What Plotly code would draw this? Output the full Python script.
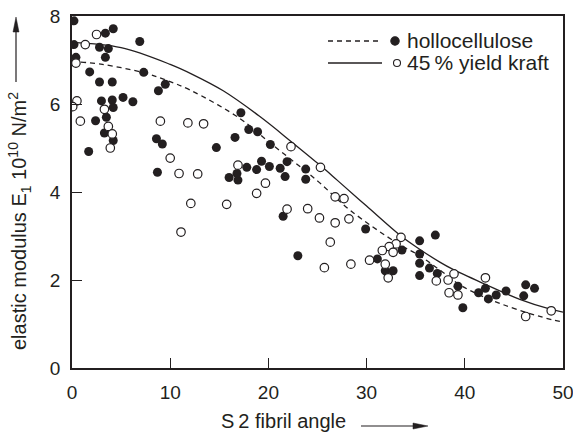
import plotly.graph_objects as go

# ---- data ----
holo_x = [0.2, 3.4, 4.2, 0.2, 2.8, 3.7, 0.4, 3.4, 6.9, 1.8, 7.3, 2.8, 4.1, 9.5, 8.8,
          3.0, 4.1, 5.2, 6.2, 4.2, 3.5, 2.4, 3.3, 4.2, 8.6, 9.2, 1.7, 8.7, 14.7, 17.2,
          16.6, 18.0, 18.9, 20.2, 17.8, 18.8, 19.3, 20.1, 21.2, 21.9, 16.0, 16.9, 16.8,
          21.7, 23.8, 23.8, 21.5, 23.0, 29.9, 31.1, 33.6, 31.9, 32.7, 35.4, 37.0, 35.4,
          35.4, 36.4, 35.4, 37.2, 39.3, 39.8, 41.4, 42.1, 42.4, 43.2, 44.2, 46.2, 47.1, 46.0]
holo_y = [7.89, 7.61, 7.71, 7.35, 7.29, 7.26, 7.06, 7.06, 7.42, 6.73, 6.72, 6.50, 6.50, 6.45, 6.30,
          6.07, 6.09, 6.15, 6.05, 5.92, 5.70, 5.62, 5.34, 5.17, 5.21, 5.09, 4.92, 4.45, 5.01, 5.80,
          5.24, 5.42, 5.37, 5.08, 4.56, 4.51, 4.70, 4.58, 4.54, 4.69, 4.33, 4.27, 4.42,
          4.35, 4.52, 4.29, 3.45, 2.55, 3.16, 2.48, 2.68, 2.21, 2.21, 2.89, 3.02, 2.59,
          2.38, 2.27, 2.10, 2.15, 1.86, 1.37, 1.71, 1.81, 1.57, 1.66, 1.75, 1.89, 1.81, 1.64]

kraft_x = [2.5, 1.35, 0.4, 0.5, 0.07, 3.3, 0.85, 3.7, 4.1, 3.9, 9.0, 11.8, 13.4, 10.0, 10.9,
           12.8, 12.1, 11.1, 15.75, 18.8, 19.7, 16.9, 22.3, 25.3, 21.9, 24.0, 25.2, 26.8, 27.7,
           26.8, 28.2, 26.3, 25.7, 28.4, 30.3, 33.5, 33.0, 32.3, 31.6, 32.7, 31.9, 32.2,
           37.1, 38.3, 38.9, 38.4, 39.3, 42.1, 48.8, 46.2]
kraft_y = [7.58, 7.35, 6.93, 6.07, 5.94, 5.88, 5.61, 5.49, 5.32, 5.00, 5.61, 5.57, 5.55, 4.77, 4.42,
           4.41, 3.74, 3.09, 3.72, 3.97, 4.20, 4.61, 5.03, 4.56, 3.61, 3.62, 3.41, 3.89, 3.85,
           3.30, 3.39, 2.86, 2.28, 2.36, 2.45, 2.97, 2.82, 2.76, 2.67, 2.63, 2.36, 2.05,
           1.98, 2.00, 2.14, 1.71, 1.66, 2.05, 1.30, 1.17]

# fitted curves
holo_curve_x = [0, 3.1, 7.3, 9.5, 12.1, 17.1, 20.2, 24.9, 28.3, 33.1, 35.4, 37.5, 39.8, 43.9, 49, 50]
holo_curve_y = [6.97, 6.90, 6.71, 6.55, 6.31, 5.67, 5.11, 4.27, 3.59, 2.84, 2.55, 2.22, 1.85, 1.44, 1.09, 1.05]
kraft_curve_x = [0, 5, 10, 12.2, 15.4, 19.1, 22.3, 25.3, 27, 30, 33.5, 35.4, 37.5, 38.8, 41.9, 45.6, 48.8, 50]
kraft_curve_y = [7.40, 7.28, 6.90, 6.68, 6.30, 5.72, 5.15, 4.60, 4.27, 3.68, 3.00, 2.70, 2.40, 2.24, 1.92, 1.56, 1.33, 1.27]

x_ticks = [0, 10, 20, 30, 40, 50]
y_ticks = [0, 2, 4, 6, 8]

INK = "#231f20"
FONT = "Liberation Sans, Arial, sans-serif"

# plot-area geometry (pixels) used for decoration placement
L, R, T, B = 72, 10, 16, 72
W, H = 573, 440
PW, PH = W - L - R, H - T - B


def fx(px):
    return (px - L) / PW


def fy(py):
    return (H - B - py) / PH


fig = go.Figure()

fig.add_trace(go.Scatter(x=holo_curve_x, y=holo_curve_y, mode="lines",
                         line=dict(color=INK, width=1.3, dash="5px,4px", shape="spline", smoothing=1.0),
                         hoverinfo="skip", showlegend=False))
fig.add_trace(go.Scatter(x=kraft_curve_x, y=kraft_curve_y, mode="lines",
                         line=dict(color=INK, width=1.3, shape="spline", smoothing=1.0),
                         hoverinfo="skip", showlegend=False))
fig.add_trace(go.Scatter(x=holo_x, y=holo_y, mode="markers", name="hollocellulose",
                         marker=dict(size=9, color=INK, line=dict(width=0)), showlegend=False))
fig.add_trace(go.Scatter(x=kraft_x, y=kraft_y, mode="markers", name="45% yield kraft",
                         marker=dict(size=8.5, color="white", line=dict(width=1.2, color=INK)),
                         showlegend=False))

shapes = []
annotations = []

# manual legend
leg = [("hollocellulose", 41, "5px,4px", True), ("45\u2009% yield kraft", 63, "solid", False)]
for text, py, dash, filled in leg:
    shapes.append(dict(type="line", xref="paper", yref="paper", x0=fx(328), x1=fx(382),
                       y0=fy(py), y1=fy(py), line=dict(color=INK, width=1.3, dash=dash)))
    r = 4.2 if filled else 3.5
    cx = 395 if filled else 397
    shapes.append(dict(type="circle", xref="paper", yref="paper", xsizemode="pixel", ysizemode="pixel",
                       xanchor=fx(cx), yanchor=fy(py), x0=-r, x1=r, y0=-r, y1=r,
                       fillcolor=INK if filled else "white", line=dict(color=INK, width=1.1)))
    annotations.append(dict(text=text, xref="paper", yref="paper", x=fx(405), y=fy(py - 1),
                            xanchor="left", yanchor="middle", showarrow=False,
                            font=dict(family=FONT, size=21, color=INK)))

# axis titles
annotations.append(dict(text="S\u20092 fibril angle", xref="paper", yref="paper", x=fx(283), y=fy(421),
                        xanchor="center", yanchor="middle", showarrow=False,
                        font=dict(family=FONT, size=20, color=INK)))
annotations.append(dict(text="elastic modulus E<sub>1</sub> 10<sup>10</sup> N/m<sup>2</sup>",
                        xref="paper", yref="paper", x=fx(19), y=fy(221), textangle=-90,
                        xanchor="center", yanchor="middle", showarrow=False,
                        font=dict(family=FONT, size=20, color=INK)))

# arrows next to the axis titles (line + filled head)
def arrow_h(x_tail, x_tip, py):
    shapes.append(dict(type="line", xref="paper", yref="paper", x0=fx(x_tail), x1=fx(x_tip - 10),
                       y0=fy(py), y1=fy(py), line=dict(color=INK, width=1.2)))
    shapes.append(dict(type="path", xref="paper", yref="paper",
                       path=f"M{fx(x_tip)},{fy(py)} L{fx(x_tip - 15)},{fy(py - 3)} L{fx(x_tip - 15)},{fy(py + 3)} Z",
                       fillcolor=INK, line=dict(color=INK, width=0.5)))


def arrow_v(px, y_tail, y_tip):
    shapes.append(dict(type="line", xref="paper", yref="paper", x0=fx(px), x1=fx(px),
                       y0=fy(y_tail), y1=fy(y_tip + 10), line=dict(color=INK, width=1.2)))
    shapes.append(dict(type="path", xref="paper", yref="paper",
                       path=f"M{fx(px)},{fy(y_tip)} L{fx(px - 3)},{fy(y_tip + 15)} L{fx(px + 3)},{fy(y_tip + 15)} Z",
                       fillcolor=INK, line=dict(color=INK, width=0.5)))


arrow_h(361, 428, 426)
arrow_v(16, 82, 17)

fig.update_layout(
    width=W, height=H, margin=dict(l=L, r=R, t=T, b=B, autoexpand=False),
    paper_bgcolor="white", plot_bgcolor="white",
    shapes=shapes, annotations=annotations,
    font=dict(family=FONT, size=19, color=INK),
    xaxis=dict(range=[0, 50], tickvals=x_ticks, ticks="inside", ticklen=10, tickwidth=1.2,
               tickcolor=INK, showline=True, linecolor=INK, linewidth=1.5, mirror=True,
               showgrid=False, zeroline=False, tickfont=dict(size=19, color=INK),
               ticklabelstandoff=6, automargin=False, ticklabeloverflow="allow"),
    yaxis=dict(range=[0, 8], tickvals=y_ticks, ticks="inside", ticklen=10, tickwidth=1.2,
               tickcolor=INK, showline=True, linecolor=INK, linewidth=1.5, mirror=True,
               showgrid=False, zeroline=False, tickfont=dict(size=19, color=INK),
               ticklabelstandoff=6, automargin=False, ticklabeloverflow="allow"),
)

fig.write_html("out.html")
